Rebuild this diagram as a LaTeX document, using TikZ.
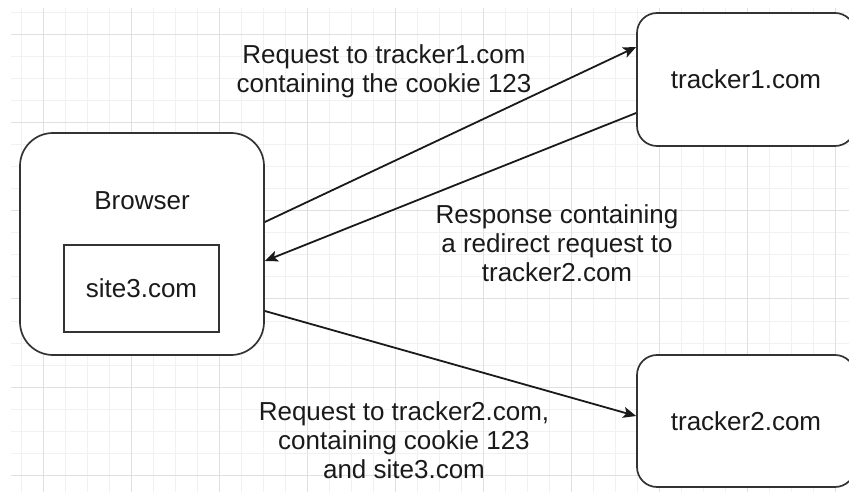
\documentclass[tikz,border=0pt]{standalone}
\usepackage{fontspec}
\setmainfont{Liberation Sans}
\usetikzlibrary{arrows.meta}
\definecolor{gridmajor}{HTML}{E0E0E0}
\definecolor{gridminor}{HTML}{F1F1F1}
\definecolor{edgecol}{HTML}{333333}
\definecolor{txtcol}{HTML}{1A1A1A}
\begin{document}
\begin{tikzpicture}[x=1bp,y=-1bp,
  every node/.style={font=\fontsize{26bp}{29bp}\selectfont, text=txtcol},
  roundbox/.style={draw=edgecol, line width=1.7bp, fill=white, rounded corners=#1, inner sep=0pt},
  roundbox/.default=20bp,
  plainbox/.style={draw=edgecol, line width=1.7bp, fill=white, inner sep=0pt},
  lbl/.style={align=center, inner sep=0pt},
  arr/.style={-{Stealth[length=13bp,width=11bp,inset=3bp]}, line width=1.8bp, draw=txtcol},
  minorline/.style={draw=gridminor, line width=1bp},
  majorline/.style={draw=gridmajor, line width=1bp}
]
\useasboundingbox (0,0) rectangle (849,492);
\clip (0,0) rectangle (849,492);
% grid
\foreach \gx in {21,43,...,849} \draw[minorline] (\gx,8) -- (\gx,492);
\foreach \gy in {13,35,...,492} \draw[minorline] (11,\gy) -- (849,\gy);
\foreach \gx in {43,131,...,849} \draw[majorline] (\gx,8) -- (\gx,492);
\foreach \gy in {35,123,...,492} \draw[majorline] (11,\gy) -- (849,\gy);
% boxes
\node[roundbox=33bp, minimum width=244bp, minimum height=222bp] (browser) at (142,244) {};
\node (browserlabel) at (142,201) {Browser};
\node[plainbox, minimum width=155bp, minimum height=87bp] (site) at (141.5,288.5) {site3.com};
\node[roundbox=20bp, minimum width=218bp, minimum height=133bp] (tracker1) at (746,79.5) {tracker1.com};
\node[roundbox=20bp, minimum width=218bp, minimum height=132bp] (tracker2) at (746,421) {tracker2.com};
% connectors
\draw[arr] ([yshift=22bp]browser.east) -- ([yshift=32.5bp]tracker1.west);
\draw[arr] ([yshift=-33.5bp]tracker1.west) -- ([yshift=-17bp]browser.east);
\draw[arr] ([yshift=-67bp]browser.east) -- ([yshift=5bp]tracker2.west);
% labels
\node[lbl] (l1) at (384,71) {Request to tracker1.com\\containing the cookie 123};
\node[lbl] (l2) at (557,243) {Response containing\\a redirect request to\\tracker2.com};
\node[lbl] (l3) at (404,440.5) {Request to tracker2.com,\\containing cookie 123\\and site3.com};
\end{tikzpicture}
\end{document}
